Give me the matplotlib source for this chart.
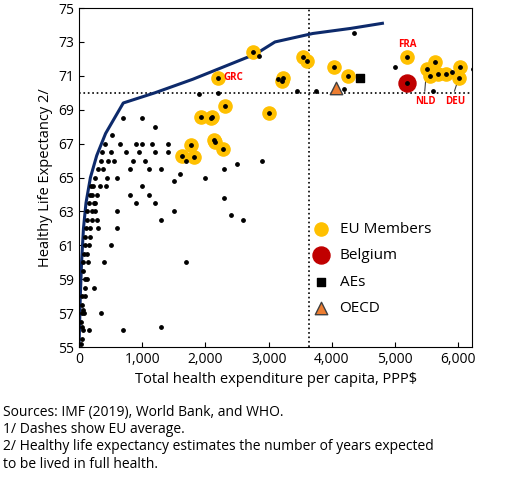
import numpy as np
import matplotlib.pyplot as plt

plt.rcParams['font.family'] = ['Open Sans', 'DejaVu Sans']

# frontier
front_x = [0, 20, 40, 70, 110, 180, 280, 420, 700, 1200, 1800, 2400, 2800, 3100, 3700, 4300, 4800]
front_y = [55, 58, 60, 62, 63.5, 65, 66.3, 67.6, 69.4, 70.0, 70.8, 71.7, 72.3, 73.0, 73.5, 73.8, 74.1]

# all countries (small black dots)
oth_x = [30, 40, 50, 60, 70, 80, 90, 100, 110, 120, 130, 150, 170, 190, 210, 230, 250, 280, 300,
         40, 60, 80, 100, 120, 140, 160, 180, 200, 220, 260, 300, 340, 380, 420, 460, 500,
         50, 90, 130, 170, 210, 250, 290, 330, 370, 410, 450, 520, 560, 600, 650, 700, 750,
         800, 850, 900, 950, 1000, 1050, 1100, 1150, 1200, 1300, 1400, 1500, 1600, 1700,
         900, 1100, 1300, 1500, 1700, 2000, 2300, 2600, 2900, 1000, 1200, 1400, 800, 600,
         1900, 2200, 2500, 2850, 3150, 3450, 3750, 4200, 4350, 5000, 5600, 5900, 6230,
         30, 50, 70, 90, 150, 230, 350, 700, 1300, 400, 500, 600, 1000, 1200, 2300, 2400]
oth_y = [56.5, 57.5, 58.0, 59.5, 60.0, 60.5, 61.0, 61.5, 62.0, 62.5, 63.0, 63.5, 64.0, 64.5, 64.0, 63.5, 63.0, 62.5, 62.0,
         55.5, 56.0, 57.0, 58.5, 59.0, 60.0, 61.0, 62.0, 63.0, 64.5, 65.0, 65.5, 66.0, 65.5, 64.5, 66.0, 66.5,
         57.0, 59.0, 60.5, 61.5, 62.5, 63.5, 64.0, 64.5, 66.5, 67.0, 65.0, 67.5, 66.0, 65.0, 67.0, 68.5, 66.5,
         65.5, 66.0, 67.0, 66.5, 67.0, 66.0, 65.5, 67.0, 66.5, 65.5, 66.5, 64.8, 65.2, 66.0,
         63.5, 64.0, 62.5, 63.0, 60.0, 65.0, 65.5, 62.5, 66.0, 68.5, 68.0, 67.0, 64.0, 62.0,
         69.9, 70.0, 65.8, 72.2, 70.8, 70.1, 70.1, 70.2, 73.5, 71.5, 70.1, 71.2, 71.4,
         55.2, 56.2, 57.2, 58.0, 56.0, 58.5, 57.0, 56.0, 56.2, 60.0, 61.0, 63.0, 64.5, 63.5, 63.8, 62.8]

# EU members
eu_x = [2750, 2200, 3230, 3210, 3540, 3610, 4030, 4260, 5190, 5500, 5630, 5560, 5680, 5810, 6030, 6010,
        2310, 1930, 2100, 2080, 3000, 1770, 1820, 2130, 2280, 1630, 2150]
eu_y = [72.4, 70.9, 70.9, 70.7, 72.1, 71.9, 71.5, 71.0, 72.1, 71.4, 71.8, 71.0, 71.1, 71.1, 71.5, 70.9,
        69.2, 68.6, 68.6, 68.5, 68.8, 66.9, 66.2, 67.2, 66.7, 66.3, 67.1]

bel_x, bel_y = [5190], [70.6]
ae_x, ae_y = [4450], [70.9]
oecd_x, oecd_y = [4070], [70.3]
eu_avg_x, eu_avg_y = 3640, 70.0

fig = plt.figure(figsize=(5.2, 5.03), dpi=100)
ax = fig.add_axes([0.152, 0.31, 0.756, 0.674])

ax.axvline(eu_avg_x, color='black', ls=':', lw=1.2, zorder=1)
ax.axhline(eu_avg_y, color='black', ls=':', lw=1.2, zorder=1)
ax.plot(front_x, front_y, color='#0d2a6b', lw=2.2, zorder=2)

ax.scatter(eu_x, eu_y, s=90, color='#ffc000', zorder=3, label='EU Members')
ax.scatter(bel_x, bel_y, s=150, color='#c00000', zorder=3, label='Belgium')
ax.scatter(ae_x, ae_y, s=40, marker='s', color='black', zorder=3, label='AEs')
ax.scatter(oecd_x, oecd_y, s=80, marker='^', color='#ed7d31', edgecolor='#404040', zorder=3, label='OECD')
ax.scatter(oth_x + eu_x + bel_x, oth_y + eu_y + bel_y, s=6, color='black', zorder=4)

lab = dict(color='#ff0000', fontsize=7, fontweight='bold')
ax.text(5190, 72.5, 'FRA', ha='center', va='bottom', **lab)
ax.text(2280, 70.9, 'GRC', ha='left', va='center', **lab)
ax.plot([5500, 5470], [71.4, 70.1], color='#404040', lw=0.8)
ax.text(5480, 69.8, 'NLD', ha='center', va='top', **lab)
ax.plot([6010, 5940], [70.9, 70.1], color='#404040', lw=0.8)
ax.text(5950, 69.8, 'DEU', ha='center', va='top', **lab)

ax.set_xlim(0, 6220)
ax.set_ylim(55, 75)
ax.set_xticks(range(0, 6001, 1000))
ax.set_xticklabels(['0', '1,000', '2,000', '3,000', '4,000', '5,000', '6,000'])
ax.set_yticks(range(55, 76, 2))
ax.tick_params(labelsize=10, direction='in')
ax.set_xlabel('Total health expenditure per capita, PPP$', fontsize=10.5)
ax.set_ylabel('Healthy Life Expectancy 2/', fontsize=10.5)
ax.legend(loc='lower right', bbox_to_anchor=(0.93, 0.05), frameon=False, fontsize=11,
          handletextpad=0.2, labelspacing=0.75, markerscale=1.0)

fig.text(0.005, 0.195, 'Sources: IMF (2019), World Bank, and WHO.\n1/ Dashes show EU average.\n'
         '2/ Healthy life expectancy estimates the number of years expected\nto be lived in full health.',
         fontsize=10, va='top', linespacing=1.2)
fig.savefig('out.png')
